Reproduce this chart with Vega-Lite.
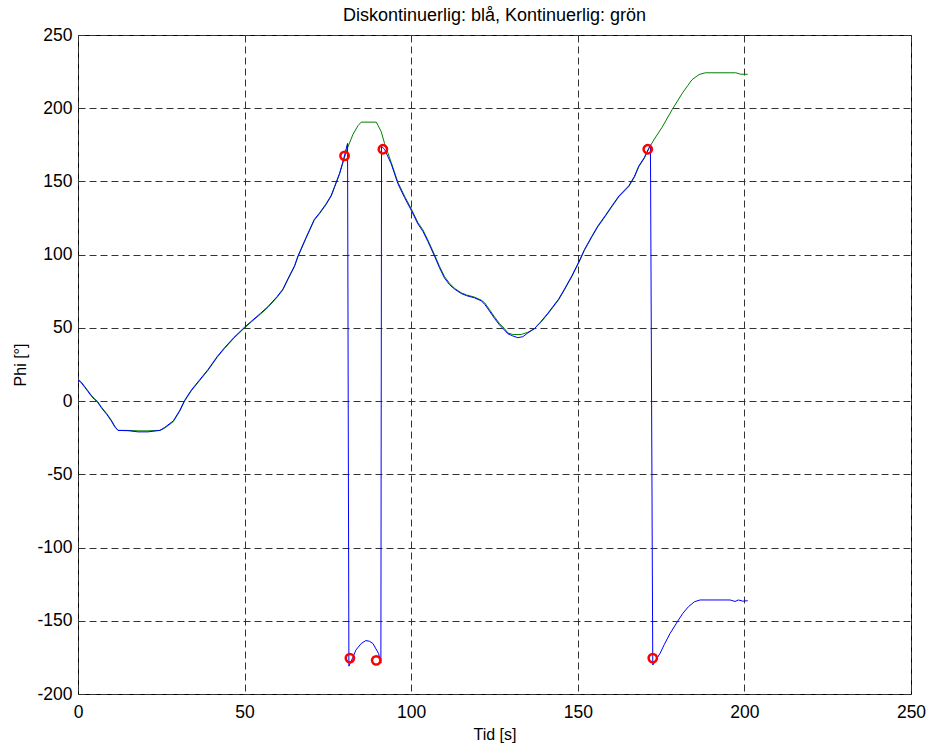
{
  "$schema": "https://vega.github.io/schema/vega-lite/v6.json",
  "autosize": {"type": "none"},
  "width": 833,
  "height": 659,
  "padding": {"left": 78, "top": 35, "right": 19, "bottom": 52},
  "background": "white",
  "config": {
    "font": "Liberation Sans",
    "view": {"stroke": "black", "strokeWidth": 1},
    "axis": {
      "domain": false,
      "ticks": false,
      "grid": true,
      "gridColor": "#333333",
      "gridDash": [7, 4],
      "gridWidth": 1,
      "labelFlush": false,
      "labelOverlap": false,
      "labelFont": "Liberation Sans",
      "labelFontSize": 17.5,
      "labelColor": "black",
      "labelExpr": "'' + datum.value",
      "titleFont": "Liberation Sans",
      "titleFontSize": 16,
      "titleFontWeight": "normal",
      "titleColor": "black"
    }
  },
  "title": {
    "text": "Diskontinuerlig: blå, Kontinuerlig: grön",
    "font": "Liberation Sans",
    "fontSize": 18,
    "fontWeight": "normal",
    "color": "black",
    "anchor": "middle",
    "frame": "group",
    "offset": 1
  },
  "datasets": {
    "kont": [
      {"t": 0, "phi": 15}, {"t": 1, "phi": 13}, {"t": 2, "phi": 10}, {"t": 3, "phi": 7}, {"t": 4, "phi": 4},
      {"t": 5, "phi": 1.5}, {"t": 5.8, "phi": 0}, {"t": 7, "phi": -4}, {"t": 8.6, "phi": -8.5}, {"t": 10, "phi": -13},
      {"t": 11, "phi": -17}, {"t": 12, "phi": -20}, {"t": 15, "phi": -20}, {"t": 18, "phi": -20.3}, {"t": 21, "phi": -20.3},
      {"t": 24.6, "phi": -20}, {"t": 26, "phi": -18.5}, {"t": 28.6, "phi": -14}, {"t": 30.5, "phi": -7}, {"t": 32, "phi": 0},
      {"t": 34, "phi": 7}, {"t": 36.5, "phi": 14}, {"t": 39, "phi": 21}, {"t": 41.8, "phi": 30}, {"t": 44, "phi": 36},
      {"t": 46.8, "phi": 43}, {"t": 50, "phi": 50}, {"t": 52, "phi": 54}, {"t": 54.8, "phi": 59.5}, {"t": 57, "phi": 64},
      {"t": 59.8, "phi": 71}, {"t": 61.5, "phi": 76}, {"t": 63, "phi": 83}, {"t": 65, "phi": 92}, {"t": 66, "phi": 98.5},
      {"t": 68.4, "phi": 111}, {"t": 70.9, "phi": 123.5}, {"t": 72.5, "phi": 128}, {"t": 74.4, "phi": 134}, {"t": 76, "phi": 140},
      {"t": 77, "phi": 146}, {"t": 78.5, "phi": 155}, {"t": 79.4, "phi": 162}, {"t": 80.9, "phi": 173}, {"t": 82.5, "phi": 182},
      {"t": 84, "phi": 188}, {"t": 85, "phi": 190.5}, {"t": 89.5, "phi": 190.5}, {"t": 90, "phi": 188.5}, {"t": 91, "phi": 184},
      {"t": 92, "phi": 176}, {"t": 94, "phi": 163}, {"t": 96, "phi": 149.5}, {"t": 98, "phi": 140}, {"t": 100.2, "phi": 130.5},
      {"t": 102, "phi": 122}, {"t": 103.5, "phi": 117}, {"t": 105, "phi": 110}, {"t": 107, "phi": 100}, {"t": 108.5, "phi": 92},
      {"t": 110, "phi": 85}, {"t": 111.5, "phi": 80.5}, {"t": 113, "phi": 77}, {"t": 115, "phi": 74}, {"t": 116.6, "phi": 72.5},
      {"t": 119, "phi": 71}, {"t": 121, "phi": 69}, {"t": 122.1, "phi": 67}, {"t": 123.5, "phi": 62.5}, {"t": 125, "phi": 57.5},
      {"t": 126.5, "phi": 53}, {"t": 128, "phi": 49.5}, {"t": 129, "phi": 46.5}, {"t": 130.5, "phi": 45.5}, {"t": 133, "phi": 45.5},
      {"t": 135, "phi": 47}, {"t": 137, "phi": 49.5}, {"t": 139, "phi": 54}, {"t": 141, "phi": 59.5}, {"t": 144.2, "phi": 69},
      {"t": 146, "phi": 76}, {"t": 148.2, "phi": 85}, {"t": 150.4, "phi": 95}, {"t": 152, "phi": 103}, {"t": 154.2, "phi": 112},
      {"t": 156, "phi": 119}, {"t": 158.2, "phi": 126}, {"t": 160, "phi": 132}, {"t": 162.3, "phi": 139.5}, {"t": 165.3, "phi": 146.5},
      {"t": 167, "phi": 153}, {"t": 168.3, "phi": 160}, {"t": 170, "phi": 166}, {"t": 171.3, "phi": 172.5}, {"t": 173, "phi": 179},
      {"t": 175.3, "phi": 187}, {"t": 178.3, "phi": 199}, {"t": 181.3, "phi": 210}, {"t": 183, "phi": 215.5}, {"t": 184.3, "phi": 219.5},
      {"t": 186.4, "phi": 223}, {"t": 188.3, "phi": 224.2}, {"t": 197.4, "phi": 224.2}, {"t": 198.9, "phi": 223.2}, {"t": 201, "phi": 223.2}
    ],
    "disk": [
      {"t": 0, "phi": 14.5}, {"t": 1, "phi": 12.5}, {"t": 2, "phi": 9.5}, {"t": 3, "phi": 6.5}, {"t": 4, "phi": 3.5},
      {"t": 5, "phi": 1}, {"t": 5.8, "phi": -0.5}, {"t": 7, "phi": -4.5}, {"t": 8.6, "phi": -9}, {"t": 10, "phi": -13.5},
      {"t": 11, "phi": -17.5}, {"t": 12, "phi": -20}, {"t": 15, "phi": -20.2}, {"t": 18, "phi": -21}, {"t": 21, "phi": -21},
      {"t": 24.6, "phi": -20}, {"t": 26, "phi": -18}, {"t": 28.6, "phi": -13.5}, {"t": 30.5, "phi": -6.5}, {"t": 32, "phi": 0.5},
      {"t": 34, "phi": 7.5}, {"t": 36.5, "phi": 14.5}, {"t": 39, "phi": 21.5}, {"t": 41.8, "phi": 30.5}, {"t": 44, "phi": 36.5},
      {"t": 46.8, "phi": 43.5}, {"t": 50, "phi": 50.5}, {"t": 52, "phi": 54.5}, {"t": 54.8, "phi": 60}, {"t": 57, "phi": 64.5},
      {"t": 59.8, "phi": 71.5}, {"t": 61.5, "phi": 76.5}, {"t": 63, "phi": 83.5}, {"t": 65, "phi": 92.5}, {"t": 66, "phi": 99},
      {"t": 68.4, "phi": 111.5}, {"t": 70.9, "phi": 124}, {"t": 72.5, "phi": 128.5}, {"t": 74.4, "phi": 134.5}, {"t": 76, "phi": 140.5},
      {"t": 77, "phi": 146.5}, {"t": 78.5, "phi": 155.5}, {"t": 79.4, "phi": 162.5}, {"t": 80.9, "phi": 176}, {"t": 81.3, "phi": -181},
      {"t": 82.5, "phi": -175}, {"t": 83.4, "phi": -170}, {"t": 85, "phi": -165.5}, {"t": 86.4, "phi": -163.5}, {"t": 87.5, "phi": -164},
      {"t": 88.5, "phi": -165.5}, {"t": 90.2, "phi": -172.3}, {"t": 90.9, "phi": -179}, {"t": 91.1, "phi": 174}, {"t": 92, "phi": 172},
      {"t": 94, "phi": 162}, {"t": 96, "phi": 148.5}, {"t": 98, "phi": 139}, {"t": 100.2, "phi": 129.5}, {"t": 102, "phi": 121},
      {"t": 103.5, "phi": 116}, {"t": 105, "phi": 109}, {"t": 107, "phi": 99}, {"t": 108.5, "phi": 91}, {"t": 110, "phi": 84},
      {"t": 111.5, "phi": 79.5}, {"t": 113, "phi": 76.5}, {"t": 115, "phi": 73.5}, {"t": 116.6, "phi": 72}, {"t": 119, "phi": 70.5},
      {"t": 121, "phi": 68.5}, {"t": 122.1, "phi": 66}, {"t": 123.5, "phi": 61.5}, {"t": 125, "phi": 56.5}, {"t": 126.5, "phi": 52},
      {"t": 128, "phi": 48.5}, {"t": 129, "phi": 46}, {"t": 130.5, "phi": 44.5}, {"t": 132, "phi": 43.3}, {"t": 133.5, "phi": 44},
      {"t": 135, "phi": 46.5}, {"t": 137, "phi": 49.5}, {"t": 139, "phi": 54.5}, {"t": 141, "phi": 60}, {"t": 144.2, "phi": 69.5},
      {"t": 146, "phi": 76.5}, {"t": 148.2, "phi": 85.5}, {"t": 150.4, "phi": 95.5}, {"t": 152, "phi": 103.5}, {"t": 154.2, "phi": 112.5},
      {"t": 156, "phi": 119.5}, {"t": 158.2, "phi": 126.5}, {"t": 160, "phi": 132.5}, {"t": 162.3, "phi": 140}, {"t": 165.3, "phi": 147},
      {"t": 167, "phi": 153.5}, {"t": 168.3, "phi": 160.5}, {"t": 170, "phi": 166.5}, {"t": 171.3, "phi": 172.5}, {"t": 171.8, "phi": 175},
      {"t": 172.5, "phi": -180.2}, {"t": 174.7, "phi": -172.2}, {"t": 176, "phi": -166}, {"t": 177.7, "phi": -158.6}, {"t": 180.2, "phi": -149.5},
      {"t": 181.5, "phi": -145}, {"t": 183.2, "phi": -140.4}, {"t": 185, "phi": -137}, {"t": 186.7, "phi": -135.8}, {"t": 195.7, "phi": -135.8},
      {"t": 197.2, "phi": -136.8}, {"t": 198.2, "phi": -135.8}, {"t": 199.5, "phi": -136.6}, {"t": 201, "phi": -136.3}
    ],
    "hopp": [
      {"t": 80, "phi": 167.5}, {"t": 81.6, "phi": -175.5}, {"t": 89.5, "phi": -177},
      {"t": 91.5, "phi": 172}, {"t": 171, "phi": 172}, {"t": 172.5, "phi": -175.5}
    ]
  },
  "layer": [
    {
      "data": {"name": "kont"},
      "mark": {"type": "line", "color": "#008000", "strokeWidth": 1},
      "encoding": {
        "x": {"field": "t", "type": "quantitative", "scale": {"domain": [0, 250], "nice": false, "zero": false},
              "axis": {"title": "Tid [s]", "values": [0, 50, 100, 150, 200, 250], "labelPadding": 9, "titlePadding": 6}},
        "y": {"field": "phi", "type": "quantitative", "scale": {"domain": [-200, 250], "nice": false, "zero": false},
              "axis": {"title": "Phi [°]", "values": [-200, -150, -100, -50, 0, 50, 100, 150, 200, 250], "labelPadding": 6, "titlePadding": 8}}
      }
    },
    {
      "data": {"name": "disk"},
      "mark": {"type": "line", "color": "#0000ff", "strokeWidth": 1},
      "encoding": {
        "x": {"field": "t", "type": "quantitative"},
        "y": {"field": "phi", "type": "quantitative"}
      }
    },
    {
      "data": {"name": "hopp"},
      "mark": {"type": "point", "shape": "circle", "filled": false, "color": "#ff0000", "strokeWidth": 2.5, "size": 70, "opacity": 1},
      "encoding": {
        "x": {"field": "t", "type": "quantitative"},
        "y": {"field": "phi", "type": "quantitative"}
      }
    }
  ]
}
